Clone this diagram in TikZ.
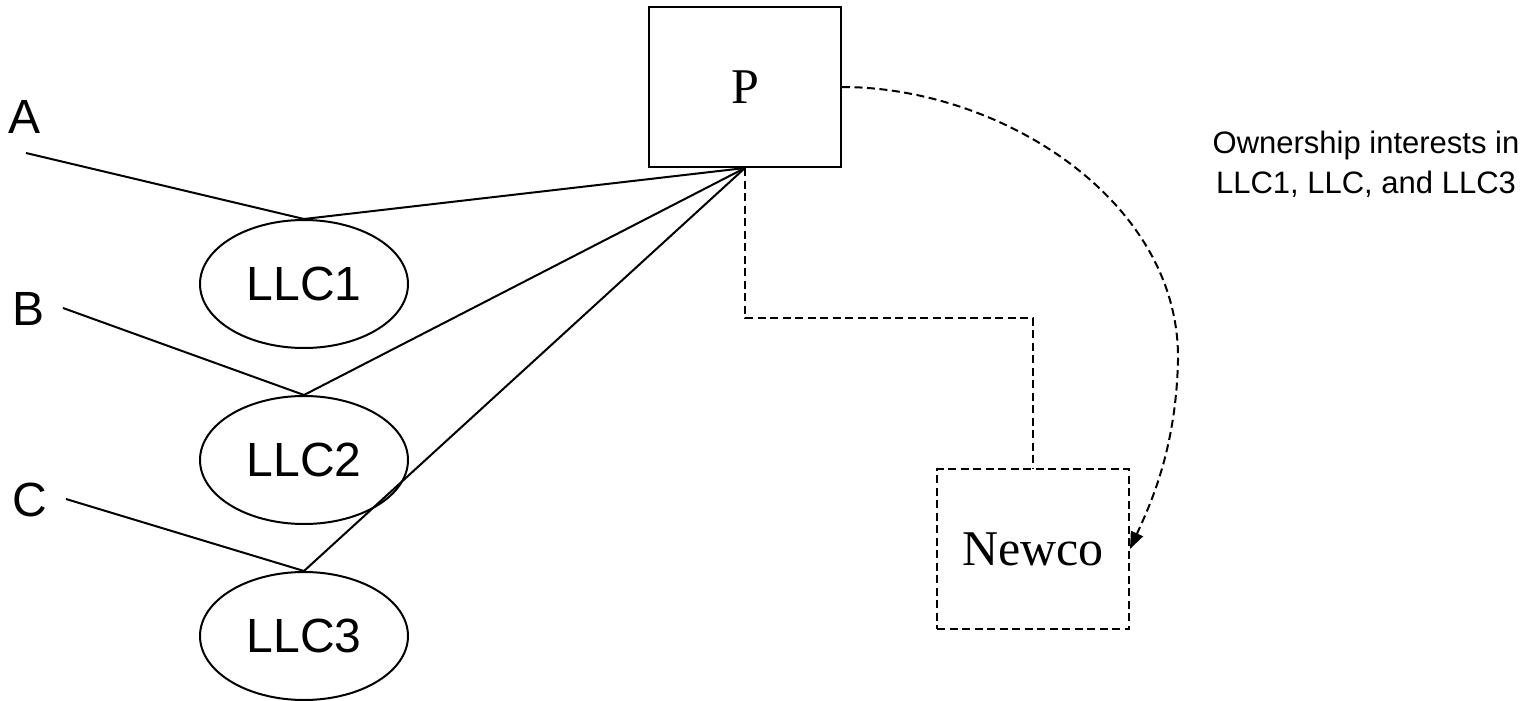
\documentclass[tikz,border=0pt]{standalone}
\usepackage{fontspec}
\setmainfont{Liberation Serif}
\setsansfont{Liberation Sans}
\usetikzlibrary{shapes.geometric,arrows.meta}
\begin{document}
\begin{tikzpicture}[x=1pt,y=-1pt,
  lw/.style={line width=2pt},
  dsh/.style={line width=2pt,dash pattern=on 8pt off 4.5pt},
  entity/.style={draw,lw,rectangle,minimum width=192pt,minimum height=160pt,inner sep=0pt,
    font=\fontsize{50}{58}\selectfont},
  llc/.style={draw,lw,ellipse,minimum width=208pt,minimum height=128pt,inner sep=0pt,
    font=\sffamily\fontsize{48}{56}\selectfont},
  lab/.style={anchor=base,inner sep=0pt,font=\sffamily\fontsize{48}{56}\selectfont},
  note/.style={align=center,inner sep=0pt,font=\sffamily\fontsize{31}{40}\selectfont}
]
\useasboundingbox (0,0) rectangle (1531,701);

\node[entity] (P) at (745,87) {P};
\node[entity,solid,dsh] (N) at (1033,549) {Newco};

\node[llc] (L1) at (304,284) {LLC1};
\node[llc] (L2) at (304,460) {LLC2};
\node[llc] (L3) at (304,636) {LLC3};

\node[lab] (A) at (25,133) {A};
\node[lab] (B) at (29,325) {B};
\node[lab] (C) at (30,516) {C};

\coordinate (a0) at (26,153);
\coordinate (b0) at (63,308);
\coordinate (c0) at (66,499);
\coordinate (elb) at (745,318);

\node[note,anchor=base] (own) at (1366,193) {Ownership interests in\\LLC1, LLC, and LLC3};

\draw[lw] (a0) -- (L1.north);
\draw[lw] (b0) -- (L2.north);
\draw[lw] (c0) -- (L3.north);
\draw[lw] (P.south) -- (L1.north);
\draw[lw] (P.south) -- (L2.north);
\draw[lw] (P.south) -- (L3.north);

\draw[dsh] (P.south) -- (elb) -| (N.north);
\draw[dsh,-{Triangle[length=17pt,width=13pt]}] (P.east) .. controls (1000,87) and (1180,200) .. (1178,360)
   .. controls (1176,450) and (1150,505) .. (N.east);
\end{tikzpicture}
\end{document}
